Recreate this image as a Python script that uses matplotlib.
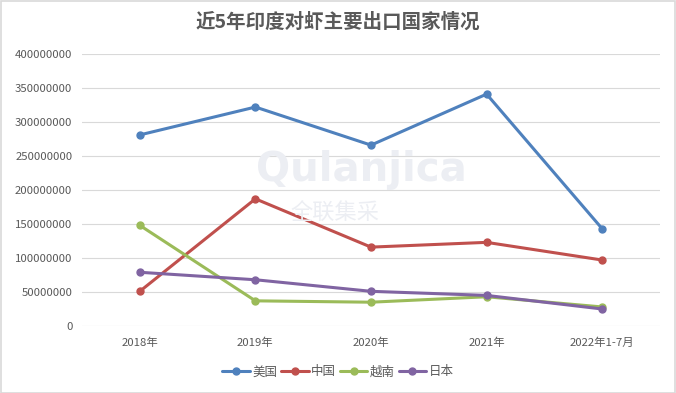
import matplotlib
matplotlib.use("Agg")
import matplotlib.pyplot as plt
from matplotlib.patches import Rectangle

plt.rcParams['font.family'] = ['Noto Sans CJK SC', 'DejaVu Sans']

categories = ["2018年", "2019年", "2020年", "2021年", "2022年1-7月"]
usa = [281e6, 322e6, 266e6, 341e6, 143e6]
china = [51e6, 187e6, 116e6, 123e6, 97e6]
vietnam = [148e6, 37e6, 35e6, 43e6, 28e6]
japan = [79e6, 68e6, 51e6, 45e6, 25e6]
series_names = ["美国", "中国", "越南", "日本"]
colors = ["#4F81BD", "#C0504D", "#9BBB59", "#8064A2"]

fig = plt.figure(figsize=(6.76, 3.93), dpi=100)
ax = fig.add_axes([82/676, 1-326/393, (660-82)/676, (326-54)/393])

# watermark
fig.text(361/676, 1-170/393, "Qulanjica", ha='center', va='center', fontsize=29,
         fontweight='bold', color='#ECEEF3', family='DejaVu Sans', zorder=0)
fig.text(335/676, 1-213/393, "全联集采", ha='center', va='center', fontsize=16,
         color='#ECEEF3', zorder=0)

x = list(range(len(categories)))
for vals, name, c in zip([usa, china, vietnam, japan], series_names, colors):
    ax.plot(x, vals, color=c, lw=2.2, marker='o', ms=5, label=name,
            solid_capstyle='round', zorder=3)

ax.patch.set_alpha(0)
ax.set_ylim(0, 400e6)
ax.set_yticks([i*50e6 for i in range(9)])
ax.set_yticklabels([str(int(i*50e6)) for i in range(9)])
ax.set_xlim(-0.5, len(categories)-0.5)
ax.set_xticks(x)
ax.set_xticklabels(categories)
ax.grid(axis='y', color='#D9D9D9', lw=0.8)
ax.set_axisbelow(True)
for s in ax.spines.values():
    s.set_visible(False)
ax.tick_params(axis='both', length=0, labelsize=8.2, colors='#595959', pad=7)
ax.tick_params(axis='x', pad=8)

fig.text(0.5, 1-22/393, "近5年印度对虾主要出口国家情况", ha='center', va='center',
         fontsize=14, fontweight='bold', color='#595959')

leg = fig.legend(loc='center', bbox_to_anchor=(338/676, 1-372/393), ncol=4,
                 frameon=False, fontsize=9, handlelength=2.2, columnspacing=0.3,
                 handletextpad=0.2)
for t in leg.get_texts():
    t.set_color('#595959')

fig.patches.append(Rectangle((0.001, 0.001), 0.997, 0.997, transform=fig.transFigure,
                             fill=False, edgecolor='#D9D9D9', lw=1.2))

fig.savefig("out.png", dpi=100)
